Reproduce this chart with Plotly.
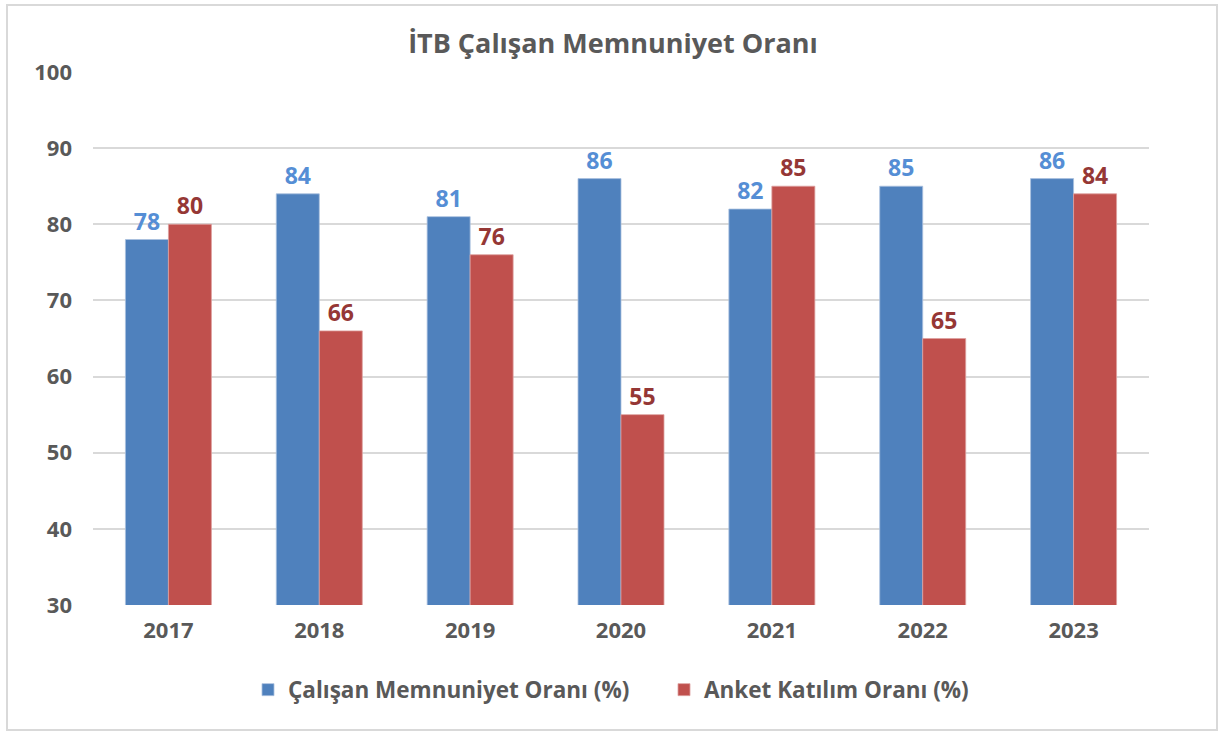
import plotly.graph_objects as go

years = ["2017", "2018", "2019", "2020", "2021", "2022", "2023"]
memnuniyet = [78, 84, 81, 86, 82, 85, 86]
katilim = [80, 66, 76, 55, 85, 65, 84]
y_ticks = [30, 40, 50, 60, 70, 80, 90, 100]

FONT = "Open Sans"
GRAY = "#595959"

fig = go.Figure()
fig.add_trace(go.Bar(
    x=years, y=memnuniyet, name="Çalışan Memnuniyet Oranı (%)",
    marker=dict(color="#4F81BD", line=dict(color="#A9C0DE", width=0.8)),
    text=memnuniyet, textposition="outside", cliponaxis=False,
    textfont=dict(family=FONT, size=23, color="#558ED5", weight="bold"),
))
fig.add_trace(go.Bar(
    x=years, y=katilim, name="Anket Katılım Oranı (%)",
    marker=dict(color="#C0504D", line=dict(color="#DDA09E", width=0.8)),
    text=katilim, textposition="outside", cliponaxis=False,
    textfont=dict(family=FONT, size=23, color="#953735", weight="bold"),
))

L, R, T, B = 93, 77, 72, 128
W, H = 1226, 733
pw, ph = W - L - R, H - T - B

fig.update_layout(
    width=W, height=H,
    margin=dict(l=L, r=R, t=T, b=B),
    paper_bgcolor="white", plot_bgcolor="white",
    barmode="group", bargap=0.43, bargroupgap=0,
    font=dict(family=FONT, color=GRAY),
    title=dict(text="<b>İTB Çalışan Memnuniyet Oranı</b>", x=0.5, xanchor="center",
               y=1 - 44 / H, yanchor="middle",
               font=dict(family=FONT, size=27, color=GRAY)),
    xaxis=dict(showgrid=False, showline=False, ticks="",
               tickfont=dict(family=FONT, size=22, color=GRAY, weight="bold"),
               ticklabelstandoff=10),
    yaxis=dict(range=[30, 100], tickvals=y_ticks, showgrid=True, gridcolor="#D9D9D9",
               gridwidth=1.5, zeroline=False, showline=False, ticks="",
               tickfont=dict(family=FONT, size=22, color=GRAY, weight="bold"),
               ticklabelstandoff=20),
    legend=dict(orientation="h", x=0.5 + 43 / pw, xanchor="center", y=-(690 - 605) / ph,
                yanchor="middle",
                font=dict(family=FONT, size=22.5, color=GRAY, weight="bold"),
                itemwidth=30, entrywidth=371, traceorder="normal"),
    showlegend=True,
)

fig.add_shape(type="rect", xref="paper", yref="paper",
              x0=(7 - L) / pw, x1=(1217 - L) / pw,
              y0=(H - B - 730) / ph, y1=(H - B - 5) / ph,
              line=dict(color="#D9D9D9", width=2), fillcolor="rgba(0,0,0,0)", layer="below")

fig.write_html("out.html", config={"displayModeBar": False},
               post_script="document.body.style.margin='0';")
